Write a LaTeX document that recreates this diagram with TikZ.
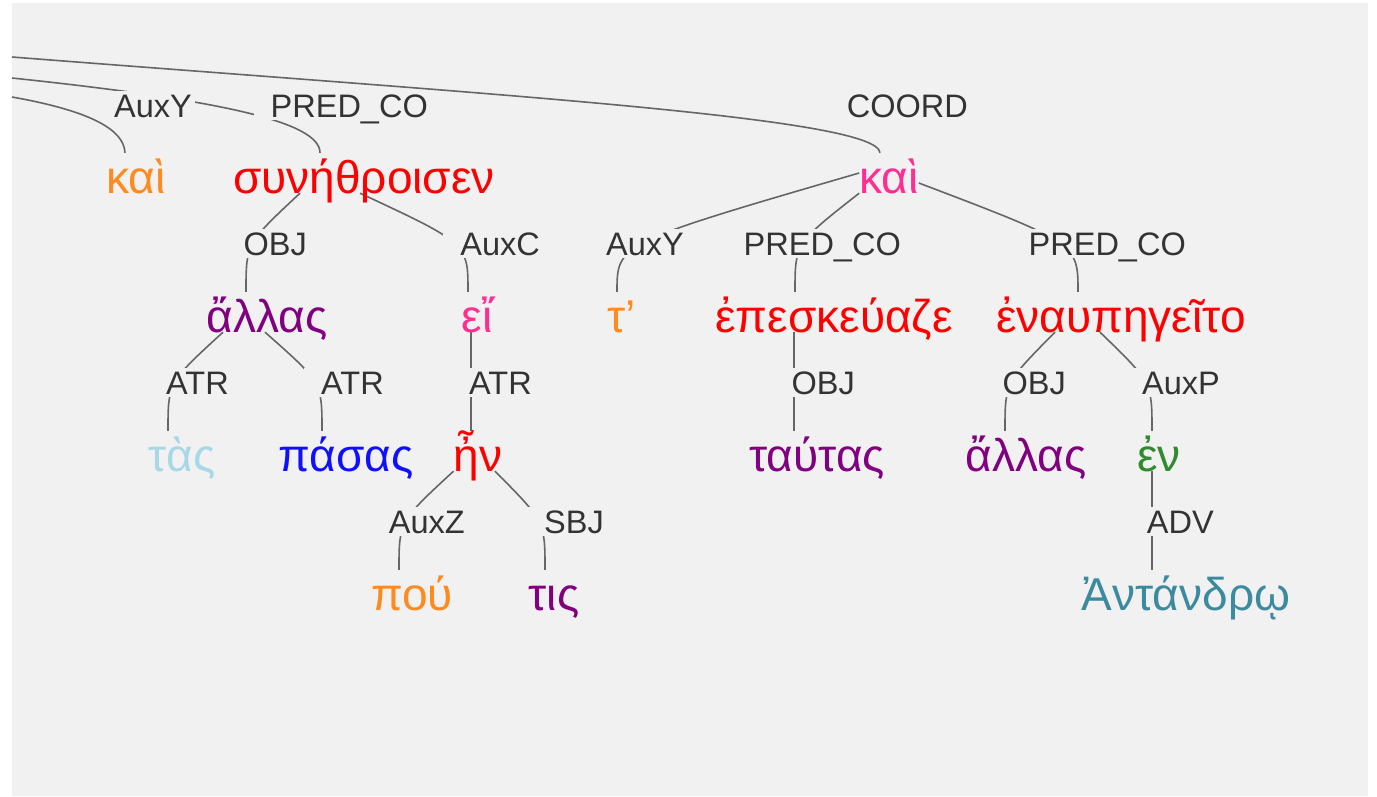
\documentclass[tikz,border=0pt]{standalone}
\usepackage{fontspec}
\setmainfont{Liberation Sans}
\usetikzlibrary{calc}
\definecolor{bg}{HTML}{F1F1F1}
\definecolor{edgegray}{HTML}{666666}
\definecolor{relgray}{HTML}{333333}
\definecolor{orng}{HTML}{FF8A1F}
\definecolor{pnk}{HTML}{FF2F92}
\definecolor{prpl}{HTML}{800080}
\definecolor{lblue}{HTML}{A8D8E8}
\definecolor{blu}{HTML}{1010FF}
\definecolor{grn}{HTML}{2E8B2E}
\definecolor{teal}{HTML}{3C8AA0}
\pgfdeclarelayer{back}
\pgfdeclarelayer{edges}
\pgfsetlayers{back,edges,main}
\tikzset{
  word/.style={anchor=base, inner sep=0pt, text height=40pt, text depth=0pt,
    font=\fontsize{46}{46}\selectfont},
  rel/.style={anchor=base east, fill=bg, inner sep=3pt, text height=23pt, text depth=0pt,
    text=relgray, font=\fontsize{32.5}{32.5}\selectfont, execute at begin node=\hspace*{14pt}},
  edge/.style={draw=edgegray, line width=1.6pt},
}
\begin{document}
\begin{tikzpicture}[x=1pt,y=-1pt]
\useasboundingbox (0,0) rectangle (1377,796);
\begin{pgfonlayer}{back}
 \fill[white] (0,0) rectangle (1377,796);
 \fill[bg] (12,3) rectangle (1368,796);
\end{pgfonlayer}

% heads that lie off the left edge
\coordinate (rootC) at (12,57);
\coordinate (rootB) at (12,78);
\coordinate (rootA) at (12,97);

% words
\node[word,text=orng] (kaiA) at (136,193) {καὶ};
\node[word,text=red] (synethr) at (364,193) {συνήθροισεν};
\node[word,text=pnk] (kaiB) at (889,193) {καὶ};
\node[word,text=prpl] (allasA) at (267,332) {ἄλλας};
\node[word,text=pnk] (ei) at (477,332) {εἴ};
\node[word,text=orng] (te) at (622,332) {τ’};
\node[word,text=red] (epesk) at (834,332) {ἐπεσκεύαζε};
\node[word,text=red] (enaup) at (1121,332) {ἐναυπηγεῖτο};
\node[word,text=lblue] (tas) at (182,471) {τὰς};
\node[word,text=blu] (pasas) at (346,471) {πάσας};
\node[word,text=red] (hen) at (478,471) {ἦν};
\node[word,text=prpl] (tautas) at (817,471) {ταύτας};
\node[word,text=prpl] (allasB) at (1026,471) {ἄλλας};
\node[word,text=grn] (en) at (1159,471) {ἐν};
\node[word,text=orng] (pou) at (412,610) {πού};
\node[word,text=prpl] (tis) at (554,610) {τις};
\node[word,text=teal] (antandr) at (1186,610) {Ἀντάνδρῳ};

% relations
\node[rel] (auxyA) at (195,117) {AuxY};
\node[rel] (predA) at (431,117) {PRED\_CO};
\node[rel] (coord) at (971,117) {COORD};
\node[rel] (objA) at (310,255) {OBJ};
\node[rel] (auxc) at (543,255) {AuxC};
\node[rel] (auxyB) at (687,255) {AuxY};
\node[rel] (predB) at (904,255) {PRED\_CO};
\node[rel] (predC) at (1189,255) {PRED\_CO};
\node[rel] (atrA) at (232,394) {ATR};
\node[rel] (atrB) at (387,394) {ATR};
\node[rel] (atrC) at (535,394) {ATR};
\node[rel] (objB) at (858,394) {OBJ};
\node[rel] (objC) at (1069,394) {OBJ};
\node[rel] (auxp) at (1223,394) {AuxP};
\node[rel] (auxz) at (468,533) {AuxZ};
\node[rel] (sbj) at (607,533) {SBJ};
\node[rel] (adv) at (1217,533) {ADV};

\begin{pgfonlayer}{edges}
\draw[edge] (rootC) .. controls +(488,38) and +(-2,-35) .. ([xshift=-9pt]kaiB.north);
\draw[edge] (rootB) .. controls +(208,22) and +(0,-31) .. ([xshift=-44pt]synethr.north);
\draw[edge] (rootA) .. controls +(73,13) and +(-1,-25) .. ([xshift=-11pt]kaiA.north);
% synethr
\draw[edge] ([xshift=-64pt]synethr.south) .. controls ([xshift=-21pt]allasA.north |- objA) .. ([xshift=-21pt]allasA.north);
\draw[edge] ([xshift=-4pt]synethr.south) .. controls ([xshift=-9pt]ei.north |- auxc) .. ([xshift=-9pt]ei.north);
% kaiB
\draw[edge] (kaiB.west) .. controls ([xshift=-5pt]te.north |- auxyB) .. ([xshift=-5pt]te.north);
\draw[edge] (kaiB.south west) .. controls ([xshift=-39pt]epesk.north |- predB) .. ([xshift=-39pt]epesk.north);
\draw[edge] ([yshift=-10pt]kaiB.east) .. controls ([xshift=-43pt]enaup.north |- predC) .. ([xshift=-43pt]enaup.north);
% second row
\draw[edge] ([xshift=-44pt]allasA.south) .. controls ([xshift=-14pt]tas.north |- atrA) .. ([xshift=-14pt]tas.north);
\draw[edge] ([xshift=-2pt]allasA.south) .. controls ([xshift=-24pt]pasas.north |- atrB) .. ([xshift=-24pt]pasas.north);
\draw[edge] ([xshift=-6pt]ei.south) -- ([xshift=-7pt]hen.north);
\draw[edge] ([xshift=-40pt]epesk.south) -- ([xshift=-23pt]tautas.north);
\draw[edge] ([xshift=-66pt]enaup.south) .. controls ([xshift=-21pt]allasB.north |- objC) .. ([xshift=-21pt]allasB.north);
\draw[edge] ([xshift=-21pt]enaup.south) .. controls ([xshift=-7pt]en.north |- auxp) .. ([xshift=-7pt]en.north);
% third row
\draw[edge] (hen.south west) .. controls ([xshift=-13pt]pou.north |- auxz) .. ([xshift=-13pt]pou.north);
\draw[edge] ([xshift=17pt]hen.south) .. controls ([xshift=-9pt]tis.north |- sbj) .. ([xshift=-9pt]tis.north);
\draw[edge] ([xshift=-7pt]en.south) -- ([xshift=-34pt]antandr.north);
\end{pgfonlayer}
\end{tikzpicture}
\end{document}
